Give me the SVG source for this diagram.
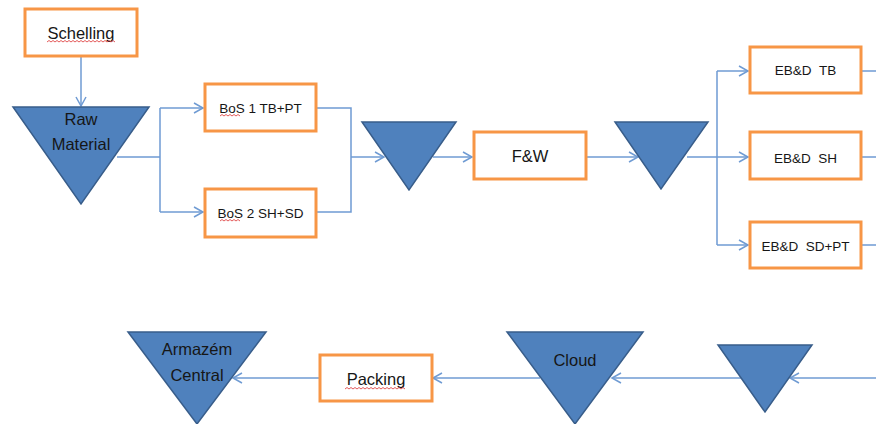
<svg xmlns="http://www.w3.org/2000/svg" width="876" height="424" viewBox="0 0 876 424">
  <style>
    .box { fill: #ffffff; stroke: #F79646; stroke-width: 3; }
    .tri { fill: #4F81BD; stroke: #385D8A; stroke-width: 1.5; stroke-linejoin: miter; }
    .link { fill: none; stroke: #6F9BD3; stroke-width: 1.5; }
    .arrow { marker-end: url(#chev); }
    .big { font-family: "Liberation Sans", Arial, sans-serif; font-size: 16.5px; fill: #161616; text-anchor: middle; }
    .small { font-family: "Liberation Sans", Arial, sans-serif; font-size: 13.5px; fill: #161616; text-anchor: middle; white-space: pre; }
    .squig { fill: none; stroke: #E04848; stroke-width: 0.9; }
  </style>
  <defs>
    <marker id="chev" markerWidth="12" markerHeight="12" refX="10" refY="6" orient="auto" markerUnits="userSpaceOnUse">
      <path d="M1,1 L10,6 L1,11" fill="none" stroke="#6F9BD3" stroke-width="1.5"/>
    </marker>
  </defs>

  <rect width="876" height="424" fill="#ffffff"/>

  <!-- connectors -->
  <g id="connectors">
    <path class="link arrow" d="M81,57 V106"/>
    <path class="link" d="M117,157 H160 M160,108 V212"/>
    <path class="link arrow" d="M160,108 H203"/>
    <path class="link arrow" d="M160,212 H203"/>
    <path class="link" d="M316,108 H351 V212 H316"/>
    <path class="link arrow" d="M351,157 H384"/>
    <path class="link arrow" d="M433,157 H472"/>
    <path class="link arrow" d="M586,157 H638"/>
    <path class="link" d="M687,157 H717 M717,71 V245"/>
    <path class="link arrow" d="M717,71 H748"/>
    <path class="link arrow" d="M717,157 H748"/>
    <path class="link arrow" d="M717,245 H748"/>
    <path class="link" d="M861,71 H876 M861,157 H876 M861,245 H876"/>
    <path class="link arrow" d="M876,378 H790"/>
    <path class="link arrow" d="M742,378 H612"/>
    <path class="link arrow" d="M540,378 H433"/>
    <path class="link arrow" d="M320,378 H233"/>
  </g>

  <!-- nodes -->
  <g id="schelling">
    <rect class="box" x="25" y="9" width="112" height="47"/>
    <text class="big" x="81" y="39">Schelling</text>
  </g>
  <g id="raw-material">
    <polygon class="tri" points="13,107 149,107 81,204"/>
    <text class="big" x="81" y="125">Raw</text>
    <text class="big" x="81" y="150">Material</text>
  </g>
  <g id="bos1">
    <rect class="box" x="205" y="84" width="111" height="47"/>
    <text class="small" x="260.5" y="113">BoS 1 TB+PT</text>
  </g>
  <g id="bos2">
    <rect class="box" x="205" y="189" width="111" height="48"/>
    <text class="small" x="260.5" y="218">BoS 2 SH+SD</text>
  </g>
  <g id="buffer1">
    <polygon class="tri" points="362,122 456,122 409,190"/>
  </g>
  <g id="fw">
    <rect class="box" x="474" y="132" width="112" height="47"/>
    <text class="big" x="530" y="162">F&amp;W</text>
  </g>
  <g id="buffer2">
    <polygon class="tri" points="615,122 708,122 661,189"/>
  </g>
  <g id="ebd-tb">
    <rect class="box" x="750" y="47" width="111" height="46"/>
    <text class="small" x="805.5" y="75">EB&amp;D  TB</text>
  </g>
  <g id="ebd-sh">
    <rect class="box" x="750" y="132" width="111" height="47"/>
    <text class="small" x="805.5" y="163">EB&amp;D  SH</text>
  </g>
  <g id="ebd-sdpt">
    <rect class="box" x="750" y="222" width="111" height="46"/>
    <text class="small" x="805.5" y="251">EB&amp;D  SD+PT</text>
  </g>
  <g id="armazem-central">
    <polygon class="tri" points="128,332 266,332 197,424"/>
    <text class="big" x="197" y="355">Armazém</text>
    <text class="big" x="197" y="381">Central</text>
  </g>
  <g id="packing">
    <rect class="box" x="320" y="355" width="112" height="46"/>
    <text class="big" x="376" y="385">Packing</text>
  </g>
  <g id="cloud">
    <polygon class="tri" points="507,332 643,332 575,424"/>
    <text class="big" x="575" y="366">Cloud</text>
  </g>
  <g id="buffer3">
    <polygon class="tri" points="718,345 812,345 765,412"/>
  </g>

  <!-- proofing underlines -->
  <g id="spellcheck">
    <path class="squig" d="M47,42 l2,-1.5 l2,1.5 l2,-1.5 l2,1.5 l2,-1.5 l2,1.5 l2,-1.5 l2,1.5 l2,-1.5 l2,1.5 l2,-1.5 l2,1.5 l2,-1.5 l2,1.5 l2,-1.5 l2,1.5 l2,-1.5 l2,1.5 l2,-1.5 l2,1.5 l2,-1.5 l2,1.5 l2,-1.5 l2,1.5 l2,-1.5 l2,1.5 l2,-1.5 l2,1.5 l2,-1.5 l2,1.5 l2,-1.5 l2,1.5 l2,-1.5 l2,1.5"/>
    <path class="squig" d="M220,116 l2,-1.5 l2,1.5 l2,-1.5 l2,1.5 l2,-1.5 l2,1.5 l2,-1.5 l2,1.5 l2,-1.5 l2,1.5"/>
    <path class="squig" d="M220,221 l2,-1.5 l2,1.5 l2,-1.5 l2,1.5 l2,-1.5 l2,1.5 l2,-1.5 l2,1.5 l2,-1.5 l2,1.5"/>
    <path class="squig" d="M345,389 l2,-1.5 l2,1.5 l2,-1.5 l2,1.5 l2,-1.5 l2,1.5 l2,-1.5 l2,1.5 l2,-1.5 l2,1.5 l2,-1.5 l2,1.5 l2,-1.5 l2,1.5 l2,-1.5 l2,1.5 l2,-1.5 l2,1.5 l2,-1.5 l2,1.5 l2,-1.5 l2,1.5 l2,-1.5 l2,1.5 l2,-1.5 l2,1.5 l2,-1.5 l2,1.5 l2,-1.5 l2,1.5"/>
  </g>
</svg>
